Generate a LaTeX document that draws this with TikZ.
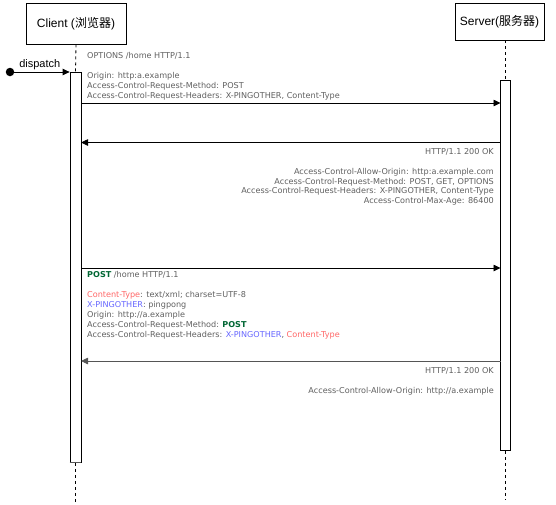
\documentclass[tikz,border=0pt]{standalone}
\usepackage{fontspec}
\setmainfont{DejaVu Sans}
\newfontfamily\titlefont{Liberation Sans}
\newfontfamily\cjk{Noto Sans CJK SC}
\usetikzlibrary{arrows.meta}
\definecolor{txtgray}{RGB}{95,95,95}
\definecolor{hred}{RGB}{255,102,102}
\definecolor{hblue}{RGB}{102,102,255}
\definecolor{hgreen}{RGB}{0,102,51}
\definecolor{arrgray}{RGB}{85,85,85}
\tikzset{
  actor/.style={draw=black, line width=0.8pt, fill=white, inner sep=0pt, font=\titlefont\fontsize{12}{14}\selectfont},
  actbar/.style={draw=black, line width=0.8pt, fill=white, inner sep=0pt, minimum width=#1},
  life/.style={draw=black, line width=0.8pt, dash pattern=on 3pt off 3pt},
  msg/.style={draw=black, line width=0.8pt, -{Triangle[length=7pt,width=6.5pt]}},
  lbl/.style={inner sep=0pt, text=txtgray, font=\fontsize{8.1}{10}\selectfont, text height=6pt, text depth=1.6pt},
  lblL/.style={lbl, anchor=west},
  lblR/.style={lbl, anchor=east},
}
\newcommand{\hr}[1]{\textcolor{hred}{#1}}
\newcommand{\hb}[1]{\textcolor{hblue}{#1}}
\newcommand{\hg}[1]{\textcolor{hgreen}{\bfseries #1}}
\begin{document}
\begin{tikzpicture}[x=1pt,y=-1pt]
\useasboundingbox (0,0) rectangle (556,504);
% actors
\node[actor, minimum width=100pt, minimum height=41pt] (client) at (76,23.5) {Client ({\cjk 浏览器})};
\node[actor, minimum width=89pt, minimum height=37pt] (server) at (499.5,21.5) {Server({\cjk 服务器})};
% activation bars
\node[actbar=11pt, minimum height=390pt, anchor=north] (actC) at (75.5,72) {};
\node[actbar=10pt, minimum height=370pt, anchor=north] (actS) at (505.5,80) {};
\draw[draw=arrgray, line width=1pt] (actC.south west) -- (actC.south east);
% lifelines
\coordinate (cEnd) at (75.5,504);
\coordinate (sEnd) at (505.5,500);
\draw[life] (client.south) -- (actC.north);
\draw[life] (actC.south) -- (cEnd);
\draw[life] (actS.north |- server.south) -- (actS.north);
\draw[life] (actS.south) -- (sEnd);
% dispatch
\node[circle, fill=black, inner sep=0pt, minimum size=8.5pt] (start) at (10,72) {};
\draw[msg] (start.center) -- (actC.north west) node[midway, above, inner sep=2pt, font=\titlefont\fontsize{11}{13}\selectfont] (dlbl) {dispatch};
% message 1
\coordinate (m1a) at (81,103);
\coordinate (m1b) at (500.5,103);
\draw[msg] (m1a) -- (m1b);
\node[lblL] (t11) at (87,56) {OPTIONS /home HTTP/1.1};
\node[lblL] (t12) at (87,76) {Origin: http:a.example};
\node[lblL] (t13) at (87,86) {Access-Control-Request-Method: POST};
\node[lblL] (t14) at (87,96.5) {Access-Control-Request-Headers: X-PINGOTHER, Content-Type};
% message 2
\coordinate (m2a) at (500.5,142.5);
\coordinate (m2b) at (81,142.5);
\draw[msg] (m2a) -- (m2b);
\node[lblR] (t21) at (494,152.5) {HTTP/1.1 200 OK};
\node[lblR] (t22) at (494,172.5) {Access-Control-Allow-Origin: http:a.example.com};
\node[lblR] (t23) at (494,182) {Access-Control-Request-Method: POST, GET, OPTIONS};
\node[lblR] (t24) at (494,191.5) {Access-Control-Request-Headers: X-PINGOTHER, Content-Type};
\node[lblR] (t25) at (494,201.5) {Access-Control-Max-Age: 86400};
% message 3
\coordinate (m3a) at (81,268);
\coordinate (m3b) at (500.5,268);
\draw[msg] (m3a) -- (m3b);
\node[lblL] (t31) at (87,275) {\hg{POST} /home HTTP/1.1};
\node[lblL] (t32) at (87,295.5) {\hr{Content-Type}: text/xml; charset=UTF-8};
\node[lblL] (t33) at (87,305) {\hb{X-PINGOTHER}: pingpong};
\node[lblL] (t34) at (87,315) {Origin: http://a.example};
\node[lblL] (t35) at (87,325) {Access-Control-Request-Method: \hg{POST}};
\node[lblL] (t36) at (87,335) {Access-Control-Request-Headers: \hb{X-PINGOTHER}, \hr{Content-Type}};
% message 4
\coordinate (m4a) at (500.5,361);
\coordinate (m4b) at (81,361);
\draw[msg, draw=arrgray] (m4a) -- (m4b);
\node[lblR] (t41) at (494,371.5) {HTTP/1.1 200 OK};
\node[lblR] (t42) at (494,391.5) {Access-Control-Allow-Origin: http://a.example};
\end{tikzpicture}
\end{document}
